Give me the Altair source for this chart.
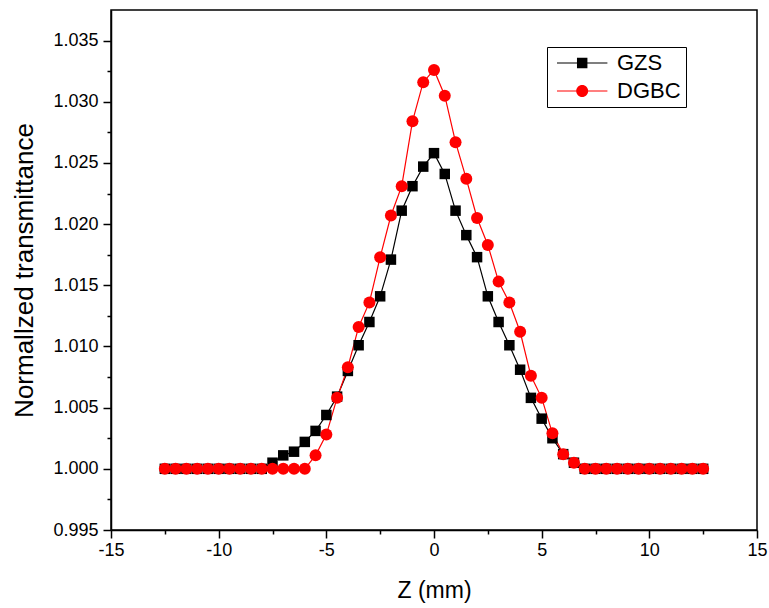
import altair as alt
import pandas as pd

# Sample positions along the beam axis (mm)
z_mm = [-12.5, -12.0, -11.5, -11.0, -10.5, -10.0, -9.5, -9.0, -8.5, -8.0,
        -7.5, -7.0, -6.5, -6.0, -5.5, -5.0, -4.5, -4.0, -3.5, -3.0,
        -2.5, -2.0, -1.5, -1.0, -0.5, 0.0, 0.5, 1.0, 1.5, 2.0,
        2.5, 3.0, 3.5, 4.0, 4.5, 5.0, 5.5, 6.0, 6.5, 7.0,
        7.5, 8.0, 8.5, 9.0, 9.5, 10.0, 10.5, 11.0, 11.5, 12.0, 12.5]

# Normalized transmittance, GZS glass
gzs = [1.0, 1.0, 1.0, 1.0, 1.0, 1.0, 1.0, 1.0, 1.0, 1.0,
       1.0005, 1.0011, 1.0014, 1.0022, 1.0031, 1.0044, 1.0059, 1.0080, 1.0101, 1.0120,
       1.0141, 1.0171, 1.0211, 1.0231, 1.0247, 1.0258, 1.0241, 1.0211, 1.0191, 1.0173,
       1.0141, 1.0120, 1.0101, 1.0081, 1.0058, 1.0041, 1.0025, 1.0012, 1.0005, 1.0,
       1.0, 1.0, 1.0, 1.0, 1.0, 1.0, 1.0, 1.0, 1.0, 1.0, 1.0]

# Normalized transmittance, DGBC glass
dgbc = [1.0, 1.0, 1.0, 1.0, 1.0, 1.0, 1.0, 1.0, 1.0, 1.0,
        1.0, 1.0, 1.0, 1.0, 1.0011, 1.0028, 1.0058, 1.0083, 1.0116, 1.0136,
        1.0173, 1.0207, 1.0231, 1.0284, 1.0316, 1.0326, 1.0305, 1.0267, 1.0237, 1.0205,
        1.0183, 1.0153, 1.0136, 1.0112, 1.0076, 1.0058, 1.0029, 1.0012, 1.0005, 1.0,
        1.0, 1.0, 1.0, 1.0, 1.0, 1.0, 1.0, 1.0, 1.0, 1.0, 1.0]

series_names = ["GZS", "DGBC"]
series_colors = ["#000000", "#ff0000"]

x_major = [-15, -10, -5, 0, 5, 10, 15]
x_minor = [-12.5, -7.5, -2.5, 2.5, 7.5, 12.5]
y_major = [0.995, 1.000, 1.005, 1.010, 1.015, 1.020, 1.025, 1.030, 1.035]
y_minor = [0.9975, 1.0025, 1.0075, 1.0125, 1.0175, 1.0225, 1.0275, 1.0325]

df = pd.DataFrame({
    "z": z_mm + z_mm,
    "T": gzs + dgbc,
    "series": [series_names[0]] * len(z_mm) + [series_names[1]] * len(z_mm),
})

FONT = "Liberation Sans"

x_scale = alt.Scale(domain=[-15, 15], nice=False, zero=False)
y_scale = alt.Scale(domain=[0.995, 1.0375], nice=False, zero=False)

x_axis = alt.Axis(values=x_major, title="Z (mm)", labelExpr="datum.value + ''",
                  tickSize=8, labelPadding=3, labelFontSize=18, titleFontSize=23,
                  titlePadding=20, orient="bottom", labelFlush=False)
y_axis = alt.Axis(values=y_major, title="Normallzed transmittance", format=".3f",
                  tickSize=8, labelPadding=5, labelFontSize=18, titleFontSize=26,
                  titlePadding=15, orient="left")

X = alt.X("z:Q", scale=x_scale, axis=x_axis)
Y = alt.Y("T:Q", scale=y_scale, axis=y_axis)

base = alt.Chart(df)
gzs_rows = base.transform_filter(alt.datum.series == "GZS")
dgbc_rows = base.transform_filter(alt.datum.series == "DGBC")

line_gzs = gzs_rows.mark_line(color="#000000", strokeWidth=1.2).encode(x=X, y=Y)
line_dgbc = dgbc_rows.mark_line(color="#ff0000", strokeWidth=1.2).encode(x=X, y=Y)
pts_gzs = gzs_rows.mark_point(shape="square", filled=True, size=110, opacity=1,
                              color="#000000").encode(x=X, y=Y)
pts_dgbc = dgbc_rows.mark_point(shape="circle", filled=True, size=144, opacity=1,
                                color="#ff0000").encode(x=X, y=Y)

# Legend symbols: a short line with the series marker in its middle.
# One path unit is 6 px (symbolSize 144); the line starts at the symbol's
# left edge and runs 8.4 units to the right.
u_line = 0.1
sym_gzs = ("M-1,-{l}H2.33V{l}H-1Z M4.07,-{l}H7.4V{l}H4.07Z "
           "M2.33,-0.87H4.07V0.87H2.33Z").format(l=u_line)
sym_dgbc = ("M-1,-{l}H2.2V{l}H-1Z M4.2,-{l}H7.4V{l}H4.2Z "
            "M4.2,0A1,1 0 1 1 2.2,0A1,1 0 1 1 4.2,0Z").format(l=u_line)

legend = alt.Legend(title=None, orient="none", legendX=436, legendY=37,
                    labelFont=FONT, labelFontSize=22, labelColor="#000000",
                    symbolSize=144, symbolStrokeWidth=0, symbolOpacity=1,
                    labelOffset=43, strokeColor="#000000", padding=5,
                    rowPadding=6)

legend_layer = base.mark_point(filled=True, opacity=0).encode(
    x=X, y=Y,
    color=alt.Color("series:N", scale=alt.Scale(domain=series_names, range=series_colors),
                    legend=legend),
    shape=alt.Shape("series:N", scale=alt.Scale(domain=series_names, range=[sym_gzs, sym_dgbc]),
                    legend=legend),
)

main = alt.layer(line_gzs, line_dgbc, pts_gzs, pts_dgbc, legend_layer)

# Minor ticks between the labelled ones
minor = base.mark_point(opacity=0, size=1).encode(
    x=alt.X("z:Q", scale=x_scale,
            axis=alt.Axis(values=x_minor, labels=False, domain=False, tickSize=4,
                          title=None, orient="bottom")),
    y=alt.Y("T:Q", scale=y_scale,
            axis=alt.Axis(values=y_minor, labels=False, domain=False, tickSize=4,
                          title=None, orient="left")),
)

chart = alt.layer(main, minor).resolve_axis(x="independent", y="independent").properties(
    width=646, height=520,
    autosize=alt.AutoSizeParams(type="none"),
    padding={"left": 111, "top": 10, "right": 12, "bottom": 78},
    background="#ffffff",
).configure_view(
    stroke="#000000", strokeWidth=1.5, fill="#ffffff"
).configure_axis(
    grid=False, domainColor="#000000", domainWidth=1.5, tickColor="#000000",
    tickWidth=1.5, labelColor="#000000", titleColor="#000000",
    labelFont=FONT, titleFont=FONT, titleFontWeight="normal",
).configure_legend(
    labelFont=FONT,
)

chart.save("out.html", embed_options={"renderer": "svg", "actions": False})
